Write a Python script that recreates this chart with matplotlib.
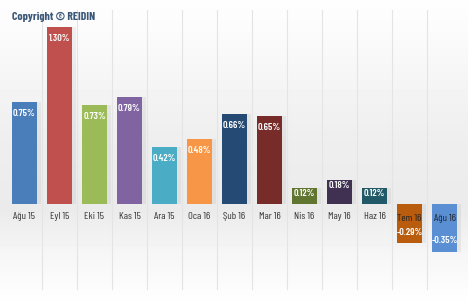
import numpy as np
import matplotlib
matplotlib.use("Agg")
from matplotlib import pyplot as plt

categories = ["Ağu 15", "Eyl 15", "Eki 15", "Kas 15", "Ara 15", "Oca 16", "Şub 16",
              "Mar 16", "Nis 16", "May 16", "Haz 16", "Tem 16", "Ağu 16"]
values = [0.75, 1.30, 0.73, 0.79, 0.42, 0.48, 0.66, 0.65, 0.12, 0.18, 0.12, -0.29, -0.35]
colors = ["#4a7ebb", "#c0504d", "#9bbb59", "#8064a2", "#4bacc6", "#f79646", "#254a74",
          "#772c2a", "#5f7530", "#403152", "#215968", "#b95c0e", "#5a8fd3"]

plt.rcParams['font.family'] = ['Barlow Condensed', 'DejaVu Sans']

fig = plt.figure(figsize=(4.68, 3.0), dpi=100)
ax = fig.add_axes([0, 0, 1, 1])
x = np.arange(len(values))
xlim = (-0.7, -0.7 + 468 / 35)
ylim = (-96 / 136, 204 / 136)

# background gradient: light at top and bottom, grey around the baseline
rows = np.linspace(0, 1, 300)
shade = np.interp(rows, [0, 0.1, 0.45, 0.7, 0.85, 1.0], [0.995, 0.985, 0.935, 0.92, 0.965, 0.995])
grad = np.repeat(shade[:, None], 2, axis=1)
ax.imshow(grad, cmap="gray", vmin=0, vmax=1, aspect="auto",
          extent=[xlim[0], xlim[1], ylim[0], ylim[1]], origin="upper", zorder=0)

# faint separators between categories
for sx in x[:-1] + 0.5:
    ax.plot([sx, sx], [ylim[0] + 0.08, ylim[1] - 0.07], color="#e4e4e4", lw=0.8, zorder=1)

# soft shadows
ax.bar(x + 0.12, values, width=0.714, color="#000000", alpha=0.05, zorder=2)
ax.bar(x, values, width=0.714, color=colors, zorder=3)

for i, v in enumerate(values):
    if v >= 0:
        ax.text(i, -0.095, categories[i], ha="center", va="center", fontsize=7.5,
                color="#333333", zorder=4)
        vy = v - 0.085 if v > 0.2 else v - 0.045
        ax.text(i, vy, f"{v:.2f}%", ha="center", va="center", fontsize=7.3,
                color="white", fontweight="semibold", zorder=4)
    else:
        ax.text(i, -0.105, categories[i], ha="center", va="center", fontsize=7.5,
                color="#222222", zorder=4)
        ax.text(i, v + 0.08, f"{v:.2f}%", ha="center", va="center", fontsize=7.3,
                color="white", fontweight="semibold", zorder=4)

ax.text(12 / 35 - 0.7, 204 / 136 - 17 / 136, "Copyright © REIDIN", ha="left", va="center",
        fontsize=8.5, color="#3b5878", fontweight="bold", zorder=4)

ax.set_xlim(*xlim)
ax.set_ylim(*ylim)
ax.axis("off")
fig.savefig("out.png", dpi=100)
